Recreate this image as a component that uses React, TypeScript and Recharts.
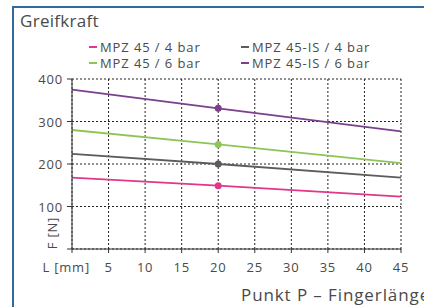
import React from 'react';
import { LineChart, Line, XAxis, YAxis, CartesianGrid } from 'recharts';

// Greifkraft vs. Fingerlänge, read at L = 0, 20, 45 mm
const lengths = [0, 20, 45];
const mpz4 = [168, 149, 123];
const mpzIs4 = [224, 200, 168];
const mpz6 = [280, 246, 202];
const mpzIs6 = [375, 331, 277];

const xTicks = [0, 5, 10, 15, 20, 25, 30, 35, 40, 45];
const yTicks = [0, 100, 200, 300, 400];

const series = [
  { key: 'mpz4', name: 'MPZ 45 / 4 bar', color: '#e0378b', values: mpz4 },
  { key: 'mpzIs4', name: 'MPZ 45-IS / 4 bar', color: '#5c5c5c', values: mpzIs4 },
  { key: 'mpz6', name: 'MPZ 45 / 6 bar', color: '#8cc657', values: mpz6 },
  { key: 'mpzIs6', name: 'MPZ 45-IS / 6 bar', color: '#7b3f8c', values: mpzIs6 },
];

const data = lengths.map((l, i) => {
  const row: any = { l };
  series.forEach(s => { row[s.key] = s.values[i]; });
  return row;
});

const FONT = '"Open Sans", "DejaVu Sans", sans-serif';
const TEXT = '#4a4a4a';

const XTick = ({ x, y, payload }: any) => {
  if (payload.value === 0) {
    return (
      <text x={x + 18} y={y + 17} textAnchor="end" fill={TEXT} fontSize={13} letterSpacing={0.8} fontFamily={FONT}>L [mm]</text>
    );
  }
  return (
    <text x={x} y={y + 17} textAnchor="middle" fill={TEXT} fontSize={13} letterSpacing={0.8} fontFamily={FONT}>{payload.value}</text>
  );
};

const YTick = ({ x, y, payload }: any) => {
  if (payload.value === 0) return null;
  return (
    <text x={x - 2} y={y + 5} textAnchor="end" fill={TEXT} fontSize={13} letterSpacing={0.8} fontFamily={FONT}>{payload.value}</text>
  );
};

const renderDot = (color: string) => (props: any) => {
  const { cx, cy, payload } = props;
  if (payload.l !== 20) return <g key={`${color}-${payload.l}`} />;
  return <circle key={`${color}-${payload.l}`} cx={cx} cy={cy} r={3.5} fill={color} stroke="none" />;
};

export default function App() {
  return (
    <div style={{ position: 'fixed', left: 0, top: 0, width: 424, height: 307, background: '#fff', overflow: 'hidden' }}>
      <div style={{ position: 'absolute', left: 12, top: 6, width: 420, height: 310, borderLeft: '2px solid #3469a0', borderTop: '2px solid #3469a0' }} />
      <div style={{ position: 'absolute', left: 20, top: 9, fontFamily: FONT, fontSize: 17, letterSpacing: 0.3, color: TEXT }}>Greifkraft</div>
      <div style={{ position: 'absolute', left: 89, top: 39, display: 'grid', gridTemplateColumns: '152px 170px', fontFamily: FONT, fontSize: 13, lineHeight: '16px', letterSpacing: 0.9, color: TEXT }}>
        {series.map(s => (
          <div key={s.key} style={{ display: 'flex', alignItems: 'center', height: 16, lineHeight: '16px', whiteSpace: 'nowrap' }}>
            <span style={{ display: 'inline-block', width: 8, height: 2.5, background: s.color, marginRight: 3 }} />
            <span>{s.name}</span>
          </div>
        ))}
      </div>
      <div style={{ position: 'absolute', left: 0, top: 0 }}>
        <LineChart width={424} height={307} data={data} margin={{ top: 79, right: 23, bottom: 28, left: 32 }}>
          <CartesianGrid stroke="#222" strokeDasharray="2 2" />
          <XAxis
            dataKey="l"
            type="number"
            domain={[0, 45]}
            ticks={xTicks}
            height={30}
            tick={<XTick />}
            stroke="#333"
            tickSize={4}
          />
          <YAxis
            type="number"
            domain={[0, 400]}
            ticks={yTicks}
            width={40}
            tick={<YTick />}
            stroke="#333"
            tickSize={5}
          />
          {series.map(s => (
            <Line
              key={s.key}
              dataKey={s.key}
              name={s.name}
              stroke={s.color}
              strokeWidth={1.8}
              dot={renderDot(s.color)}
              activeDot={false}
              isAnimationActive={false}
            />
          ))}
        </LineChart>
      </div>
      <div style={{ position: 'absolute', left: 32, top: 225, width: 40, height: 16, lineHeight: '16px', textAlign: 'center', transform: 'rotate(-90deg)', fontFamily: FONT, fontSize: 13, letterSpacing: 0.8, color: TEXT, whiteSpace: 'nowrap' }}>F [N]</div>
      <div style={{ position: 'absolute', left: 241, top: 283, fontFamily: FONT, fontSize: 17, letterSpacing: 0.9, color: TEXT, whiteSpace: 'nowrap' }}>Punkt P – Fingerlänge</div>
    </div>
  );
}
